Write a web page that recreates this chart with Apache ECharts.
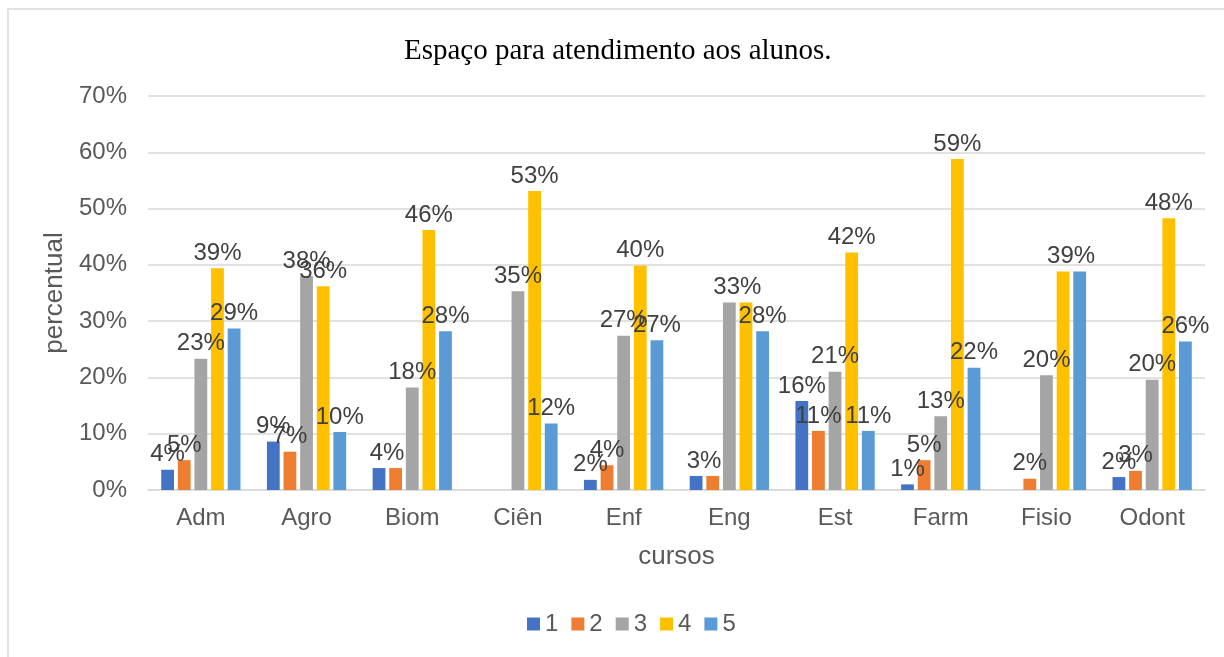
<!DOCTYPE html>
<html lang="pt">

<head>
    <meta charset="UTF-8">
    <title>Espaço para atendimento aos alunos</title>
    <script src="https://cdn.jsdelivr.net/npm/echarts@6/dist/echarts.min.js"></script>
    <style>
        html, body { margin: 0; padding: 0; background: #fff; }
        #chart { width: 1224px; height: 657px; }
    </style>
</head>

<body>
    <div id="chart"></div>
    <script>
        // cursos
        const categories = ['Adm', 'Agro', 'Biom', 'Ciên', 'Enf', 'Eng', 'Est', 'Farm', 'Fisio', 'Odont'];
        const seriesNames = ['1', '2', '3', '4', '5'];

        // percent values
        const s1 = [3.6, 8.6, 3.9, 0, 1.8, 2.5, 15.8, 1.0, 0, 2.3];
        const s2 = [5.3, 6.8, 3.9, 0, 4.4, 2.5, 10.5, 5.3, 2.0, 3.4];
        const s3 = [23.3, 38.0, 18.2, 35.3, 27.4, 33.3, 21.0, 13.1, 20.4, 19.6];
        const s4 = [39.4, 36.2, 46.2, 53.1, 39.9, 33.3, 42.2, 58.8, 38.8, 48.3];
        const s5 = [28.7, 10.3, 28.2, 11.8, 26.6, 28.2, 10.5, 21.7, 38.8, 26.4];

        const colors = ['#4472C4', '#ED7D31', '#A5A5A5', '#FFC000', '#5B9BD5'];
        const font = 'Liberation Sans, Arial, sans-serif';
        const all = [s1, s2, s3, s4, s5];

        const chart = echarts.init(document.getElementById('chart'));

        // two neighbouring bars of equal height share one label, centred between them
        const series = all.map(function (vals, i) {
            const prev = all[i - 1];
            const next = all[i + 1];
            const data = vals.map(function (v, j) {
                const item = { value: v };
                if (prev && prev[j] === v) {
                    item.label = { show: false };
                } else if (next && next[j] === v) {
                    item.label = { offset: [8, 0] };
                }
                return item;
            });
            return {
                name: seriesNames[i],
                type: 'bar',
                data: data,
                barGap: '30%',
                barCategoryGap: '25%',
                itemStyle: { color: colors[i] },
                label: {
                    show: true,
                    position: 'top',
                    distance: 3,
                    color: '#404040',
                    fontSize: 24,
                    fontFamily: font,
                    formatter: function (p) {
                        return p.value > 0 ? Math.round(p.value) + '%' : '';
                    }
                }
            };
        });

        const option = {
            backgroundColor: '#fff',
            animation: false,
            color: colors,
            graphic: [{
                type: 'rect',
                shape: { x: 8, y: 9, width: 1240, height: 670 },
                style: { fill: 'none', stroke: '#d9d9d9', lineWidth: 1.5 },
                silent: true
            }],
            title: {
                text: 'Espaço para atendimento aos alunos.',
                left: 399,
                top: 32,
                textStyle: {
                    fontFamily: 'Liberation Serif, Times New Roman, serif',
                    fontWeight: 'normal',
                    fontSize: 29,
                    color: '#000'
                }
            },
            legend: {
                data: seriesNames,
                bottom: 16,
                left: 522,
                itemWidth: 13,
                itemHeight: 13,
                itemGap: 13,
                icon: 'rect',
                textStyle: { fontSize: 24, color: '#595959', fontFamily: font }
            },
            grid: {
                left: 148,
                right: 19,
                top: 96,
                bottom: 167,
                containLabel: false
            },
            xAxis: {
                type: 'category',
                data: categories,
                name: 'cursos',
                nameLocation: 'middle',
                nameGap: 54,
                nameTextStyle: { fontSize: 26, color: '#595959', fontFamily: font },
                axisTick: { show: false },
                axisLine: { lineStyle: { color: '#d9d9d9', width: 1.5 } },
                axisLabel: { fontSize: 24, color: '#595959', fontFamily: font, margin: 16 }
            },
            yAxis: {
                type: 'value',
                min: 0,
                max: 70,
                interval: 10,
                name: 'percentual',
                nameLocation: 'middle',
                nameGap: 76,
                nameTextStyle: { fontSize: 26, color: '#595959', fontFamily: font },
                axisLine: { show: false },
                axisTick: { show: false },
                splitLine: { lineStyle: { color: '#d9d9d9', width: 1.5 } },
                axisLabel: {
                    fontSize: 24,
                    color: '#595959',
                    fontFamily: font,
                    margin: 21,
                    formatter: '{value}%'
                }
            },
            series: series
        };

        chart.setOption(option);
    </script>
</body>

</html>
